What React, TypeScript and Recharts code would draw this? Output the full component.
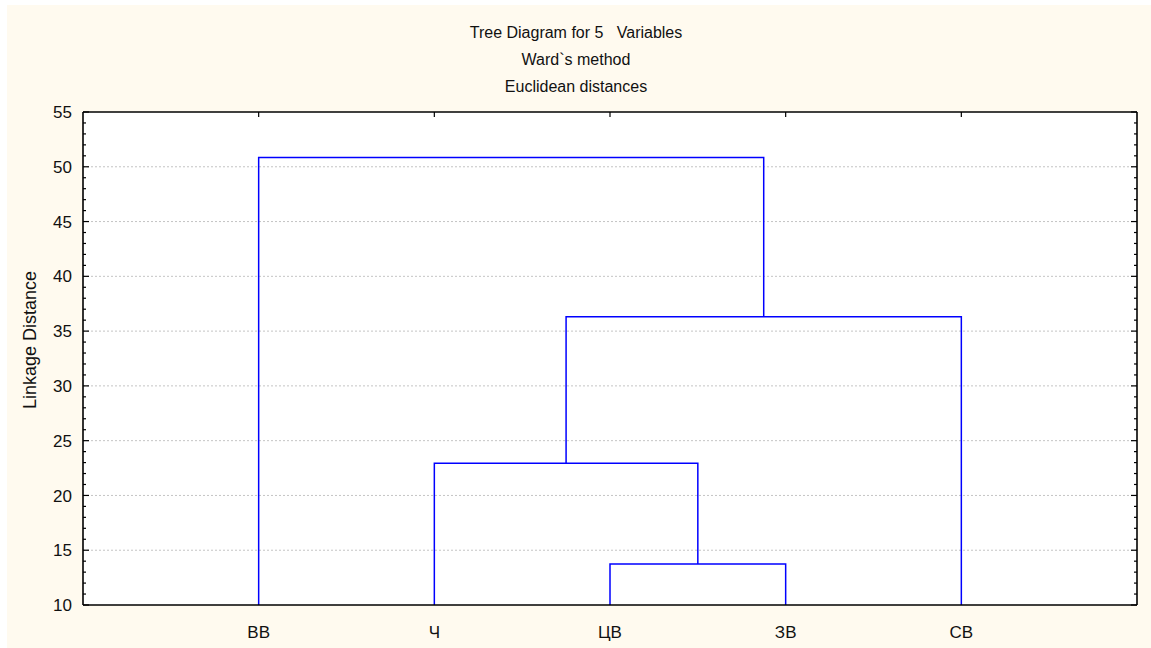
import React from 'react';
import { LineChart, Line, XAxis, YAxis, ReferenceLine, CartesianGrid } from 'recharts';

// Leaves of the dendrogram (left to right)
const leafLabels = ['ВВ', 'Ч', 'ЦВ', 'ЗВ', 'СВ'];
// Merge steps: cluster A + cluster B at a linkage distance.
// Leaves are clusters 0..4; every merge creates a new cluster numbered 5, 6, ...
const mergeA = [2, 1, 6, 0];
const mergeB = [3, 5, 4, 7];
const mergeHeight = [13.75, 22.95, 36.3, 50.85];

const yDomain = [10, 55];
const xDomain = [0, 6];
const yTicks = Array.from({ length: 46 }, (_, i) => 10 + i);
const gridValues = [15, 20, 25, 30, 35, 40, 45, 50];
const leafTicks = [1, 2, 3, 4, 5];

const titleLines = ['Tree Diagram for 5   Variables', 'Ward`s method', 'Euclidean distances'];
const yAxisTitle = 'Linkage Distance';

// Build the U-shaped link polylines from the merge table
const pos: number[] = leafLabels.map((_, i) => i + 1);
const hgt: number[] = leafLabels.map(() => yDomain[0]);
const links = mergeA.map((a, k) => {
  const b = mergeB[k];
  const h = mergeHeight[k];
  const seg = [
    { x: pos[a], y: hgt[a] },
    { x: pos[a], y: h },
    { x: pos[b], y: h },
    { x: pos[b], y: hgt[b] },
  ];
  pos.push((pos[a] + pos[b]) / 2);
  hgt.push(h);
  return seg;
});

const FONT = '"Liberation Sans", Arial, sans-serif';
const AXIS = '#000000';

const LeftTick = (props: any) => {
  const { x, y, payload } = props;
  const v = payload.value;
  const major = v % 5 === 0;
  return (
    <g>
      <line x1={x} x2={x + (major ? 6 : 3)} y1={y} y2={y} stroke={AXIS} strokeWidth={1.2} />
      {major && (
        <text x={x - 11} y={y} dy="0.36em" textAnchor="end" fontSize={17} fill="#111" fontFamily={FONT}>
          {v}
        </text>
      )}
    </g>
  );
};

const RightTick = (props: any) => {
  const { x, y, payload } = props;
  const major = payload.value % 5 === 0;
  return <line x1={x - (major ? 6 : 3)} x2={x} y1={y} y2={y} stroke={AXIS} strokeWidth={1.2} />;
};

const TopTick = (props: any) => {
  const { x, y } = props;
  return <line x1={x} x2={x} y1={y} y2={y + 5} stroke={AXIS} strokeWidth={1.2} />;
};

const BottomTick = (props: any) => {
  const { x, y, payload } = props;
  return (
    <text x={x} y={y + 27} dy="0.36em" textAnchor="middle" fontSize={17} fill="#111" fontFamily={FONT}>
      {leafLabels[payload.value - 1]}
    </text>
  );
};

export default function App() {
  return (
    <div
      style={{
        position: 'absolute',
        left: 7,
        top: 5,
        width: 1144,
        height: 643,
        background: '#fffaef',
        fontFamily: FONT,
      }}
    >
      {titleLines.map((t, i) => (
        <div
          key={i}
          style={{
            position: 'absolute',
            left: 0,
            width: 1138,
            top: 28 + i * 27 - 10,
            height: 20,
            lineHeight: '20px',
            textAlign: 'center',
            fontSize: 16,
            color: '#111',
            whiteSpace: 'pre',
          }}
        >
          {t}
        </div>
      ))}
      <div
        style={{
          position: 'absolute',
          left: 23 - 100,
          top: 335 - 10,
          width: 200,
          height: 20,
          lineHeight: '20px',
          textAlign: 'center',
          fontSize: 18,
          color: '#111',
          transform: 'rotate(-90deg)',
          whiteSpace: 'pre',
        }}
      >
        {yAxisTitle}
      </div>
      <LineChart
        width={1144}
        height={643}
        margin={{ top: 107, right: 14, bottom: 0, left: 76 }}
        style={{ position: 'absolute', left: 0, top: 0 }}
      >
        <CartesianGrid xAxisId="b" yAxisId="l" fill="#ffffff" horizontal={false} vertical={false} />
        <XAxis
          xAxisId="b"
          dataKey="x"
          type="number"
          domain={xDomain}
          ticks={leafTicks}
          interval={0}
          height={43}
          tickSize={0}
          tickMargin={0}
          tickLine={false}
          axisLine={{ stroke: AXIS, strokeWidth: 1.6 }}
          tick={<BottomTick />}
          allowDataOverflow
        />
        <XAxis
          xAxisId="t"
          orientation="top"
          mirror
          dataKey="x"
          type="number"
          domain={xDomain}
          ticks={leafTicks}
          interval={0}
          tickSize={0}
          tickMargin={0}
          tickLine={false}
          axisLine={{ stroke: AXIS, strokeWidth: 1.6 }}
          tick={<TopTick />}
          allowDataOverflow
        />
        <YAxis
          yAxisId="l"
          orientation="left"
          mirror
          type="number"
          domain={yDomain}
          ticks={yTicks}
          interval={0}
          tickSize={0}
          tickMargin={0}
          tickLine={false}
          axisLine={{ stroke: AXIS, strokeWidth: 1.6 }}
          tick={<LeftTick />}
          allowDataOverflow
        />
        <YAxis
          yAxisId="r"
          orientation="right"
          mirror
          type="number"
          domain={yDomain}
          ticks={yTicks}
          interval={0}
          tickSize={0}
          tickMargin={0}
          tickLine={false}
          axisLine={{ stroke: AXIS, strokeWidth: 1.6 }}
          tick={<RightTick />}
          allowDataOverflow
        />
        {gridValues.map((v) => (
          <ReferenceLine
            key={v}
            xAxisId="b"
            yAxisId="l"
            y={v}
            stroke="#c4c4c4"
            strokeWidth={1}
            strokeDasharray="2 2"
          />
        ))}
        {links.map((seg, i) => (
          <Line
            key={i}
            xAxisId="b"
            yAxisId="l"
            data={seg}
            dataKey="y"
            type="linear"
            stroke="#0000ff"
            strokeWidth={1.5}
            dot={false}
            activeDot={false}
            isAnimationActive={false}
            strokeLinejoin="miter"
            strokeLinecap="butt"
          />
        ))}
      </LineChart>
    </div>
  );
}
